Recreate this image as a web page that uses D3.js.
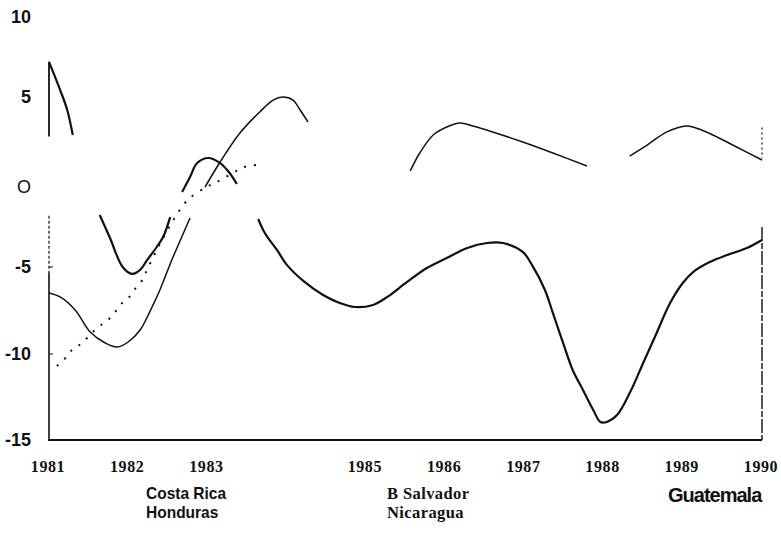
<!DOCTYPE html>
<html>
<head>
<meta charset="utf-8">
<script src="https://cdn.jsdelivr.net/npm/d3@7"></script>
<style>
  html, body { margin: 0; padding: 0; background: #fff; }
  svg { display: block; }
</style>
</head>
<body>
<svg id="chart" width="781" height="552"></svg>
<script>
// ---------- DATA ----------
const yTickValues = [-15, -10, -5, 0, 5, 10];
const yTickLabels = ["-15", "-10", "-5", "O", "5", "10"];
const xTickYears  = [1981, 1982, 1983, 1985, 1986, 1987, 1988, 1989, 1990];

// thick solid line (null = break in the printed line)
const lineA_years  = [1981.00,1981.14,1981.23,1981.30,null,
  1981.64,1981.77,1981.93,1982.05,1982.15,1982.24,1982.36,1982.44,1982.53,null,
  1982.68,1982.78,1982.87,1983.01,1983.16,1983.28,1983.37,null,
  1983.64,1983.71,1983.76,1983.88,1984.00,1984.21,1984.46,1984.67,1984.86,1985.09,1985.27,
  1985.52,1985.77,1986.02,1986.28,1986.53,1986.73,1986.98,1987.10,1987.26,1987.36,1987.49,
  1987.61,1987.74,1987.87,1987.96,1988.04,1988.17,1988.33,1988.50,1988.67,1988.84,1989.00,
  1989.13,1989.34,1989.56,1989.81,1990.00];
const lineA_values = [7.19,5.44,4.28,2.89,null,
  -1.75,-3.19,-5.00,-5.40,-5.17,-4.56,-3.75,-3.13,-1.88,null,
  -0.31,0.56,1.33,1.61,1.33,0.78,0.17,null,
  -2.00,-2.75,-3.15,-3.95,-4.85,-5.80,-6.61,-7.07,-7.30,-7.18,-6.72,
  -5.86,-5.06,-4.44,-3.81,-3.50,-3.50,-4.06,-4.90,-6.32,-7.64,-9.37,
  -10.93,-12.09,-13.26,-13.95,-13.95,-13.55,-12.27,-10.52,-8.79,-7.07,-5.92,
  -5.29,-4.69,-4.25,-3.81,-3.31];

// thin solid line
const lineB_years  = [1981.00,1981.14,1981.33,1981.52,1981.71,1981.86,1982.00,1982.15,1982.27,
  1982.40,1982.55,1982.67,1982.78,null,
  1982.97,1983.16,1983.41,1983.66,1983.83,1983.95,1984.08,1984.17,1984.27,null,
  1985.56,1985.68,1985.85,1986.02,1986.19,1986.35,1986.60,1986.98,1987.36,1987.79,null,
  1988.33,1988.55,1988.80,1989.05,1989.13,1989.38,1989.68,1990.00];
const lineB_values = [-6.49,-6.72,-7.47,-8.74,-9.37,-9.60,-9.31,-8.62,-7.59,
  -6.32,-4.56,-3.19,-1.94,null,
  0.00,1.39,3.00,4.17,4.83,5.00,4.83,4.28,3.61,null,
  0.89,1.89,2.89,3.33,3.56,3.39,3.06,2.50,1.89,1.17,null,
  1.72,2.33,3.06,3.39,3.33,2.89,2.22,1.50];

// dotted line
const lineC_years  = [1981.10,1981.23,1981.30,1981.40,1981.48,1981.58,1981.69,1981.80,1981.88,
  1981.96,1982.04,1982.11,1982.19,1982.22,1982.36,1982.44,1982.57,1982.75,1982.99,1983.12,
  1983.39,1983.51,1983.66];
const lineC_values = [-10.70,-10.12,-9.71,-9.43,-9.08,-8.62,-8.22,-7.82,-7.30,
  -6.90,-6.61,-6.09,-5.69,-5.34,-3.94,-3.19,-2.06,-0.81,0.00,0.28,
  0.94,1.17,1.22];

const legendLeft   = ["Costa Rica", "Honduras"];
const legendMiddle = ["B Salvador", "Nicaragua"];
const legendRight  = ["Guatemala"];

// ---------- SCALES ----------
const svg = d3.select("#chart");
const x = d3.scaleLinear().domain([1981, 1990]).range([49, 762]);
// the printed value axis is not evenly spaced; follow its printed ticks
const y = d3.scaleLinear().domain(yTickValues).range([440, 354, 267, 187, 97, 17]);

const ink = "#111";

// ---------- AXES ----------
const axisG = svg.append("g").attr("stroke", ink).attr("fill", "none");
// left axis (broken in the print)
axisG.append("line").attr("x1", x(1981)).attr("x2", x(1981))
  .attr("y1", y(7.2)).attr("y2", y(2.8)).attr("stroke-width", 1.8);
axisG.append("line").attr("x1", x(1981)).attr("x2", x(1981))
  .attr("y1", y(-1.8)).attr("y2", y(-5.3)).attr("stroke-width", 1.2)
  .attr("stroke-dasharray", "3,2");
axisG.append("line").attr("x1", x(1981)).attr("x2", x(1981))
  .attr("y1", y(-5.3)).attr("y2", y(-15)).attr("stroke-width", 1.6);
// bottom axis
axisG.append("line").attr("x1", x(1981) - 1).attr("x2", x(1990))
  .attr("y1", y(-15)).attr("y2", y(-15)).attr("stroke-width", 2.2);
// right frame (faint, broken)
axisG.append("line").attr("x1", x(1990)).attr("x2", x(1990))
  .attr("y1", y(3.3)).attr("y2", y(1.6)).attr("stroke-width", 1.2)
  .attr("stroke-dasharray", "2,3");
axisG.append("line").attr("x1", x(1990)).attr("x2", x(1990))
  .attr("y1", y(-2.5)).attr("y2", y(-15)).attr("stroke-width", 1.4)
  .attr("stroke-dasharray", "14,2,6,2");
// small ticks
[-5, -10].forEach(v => {
  axisG.append("line").attr("x1", x(1981)).attr("x2", x(1981) + 4)
    .attr("y1", y(v)).attr("y2", y(v)).attr("stroke-width", 1);
});

// y labels
svg.append("g").selectAll("text").data(yTickValues).join("text")
  .attr("x", 31).attr("y", d => y(d)).attr("dy", "0.36em")
  .attr("text-anchor", "end")
  .attr("font-family", "'Liberation Sans', Arial, sans-serif")
  .attr("font-weight", (d, i) => yTickLabels[i] === "O" ? "normal" : "bold")
  .attr("font-size", 18).attr("fill", ink)
  .text((d, i) => yTickLabels[i]);

// x labels
svg.append("g").selectAll("text").data(xTickYears).join("text")
  .attr("x", d => x(d) - 1).attr("y", 472)
  .attr("text-anchor", "middle")
  .attr("font-family", "'Liberation Serif', 'Times New Roman', serif")
  .attr("font-weight", "bold").attr("font-size", 16)
  .attr("letter-spacing", 0.6)
  .attr("fill", ink).text(d => d);

// ---------- LINES ----------
function pts(years, vals) { return years.map((t, i) => [t, vals[i]]); }
const line = d3.line()
  .defined(d => d[0] != null && d[1] != null)
  .x(d => x(d[0])).y(d => y(d[1]))
  .curve(d3.curveCatmullRom.alpha(0.5));

svg.append("path").datum(pts(lineB_years, lineB_values))
  .attr("d", line).attr("fill", "none").attr("stroke", ink)
  .attr("stroke-width", 1.5).attr("stroke-linejoin", "round");

svg.append("path").datum(pts(lineA_years, lineA_values))
  .attr("d", line).attr("fill", "none").attr("stroke", ink)
  .attr("stroke-width", 2.2).attr("stroke-linejoin", "round");

svg.append("path").datum(pts(lineC_years, lineC_values))
  .attr("d", line).attr("fill", "none").attr("stroke", ink)
  .attr("stroke-width", 2).attr("stroke-dasharray", "2,8");

// ---------- LEGEND TEXT ----------
const sans = "'Liberation Sans', Arial, sans-serif";
const serif = "'Liberation Serif', 'Times New Roman', serif";
svg.append("g").attr("transform", "translate(146,0) scale(0.94,1)")
  .selectAll("text").data(legendLeft).join("text")
  .attr("x", 0).attr("y", (d, i) => 499 + i * 19)
  .attr("font-family", sans).attr("font-weight", "bold").attr("font-size", 16.5)
  .attr("fill", ink).text(d => d);
svg.append("g").selectAll("text").data(legendMiddle).join("text")
  .attr("x", 387).attr("y", (d, i) => 499 + i * 19)
  .attr("font-family", serif).attr("font-weight", "bold").attr("font-size", 16.5)
  .attr("letter-spacing", 0.4)
  .attr("fill", ink).text(d => d);
svg.append("g").selectAll("text").data(legendRight).join("text")
  .attr("x", 668).attr("y", 502)
  .attr("font-family", sans).attr("font-weight", "bold").attr("font-size", 20)
  .attr("letter-spacing", -1)
  .attr("fill", ink).text(d => d);
</script>
</body>
</html>
